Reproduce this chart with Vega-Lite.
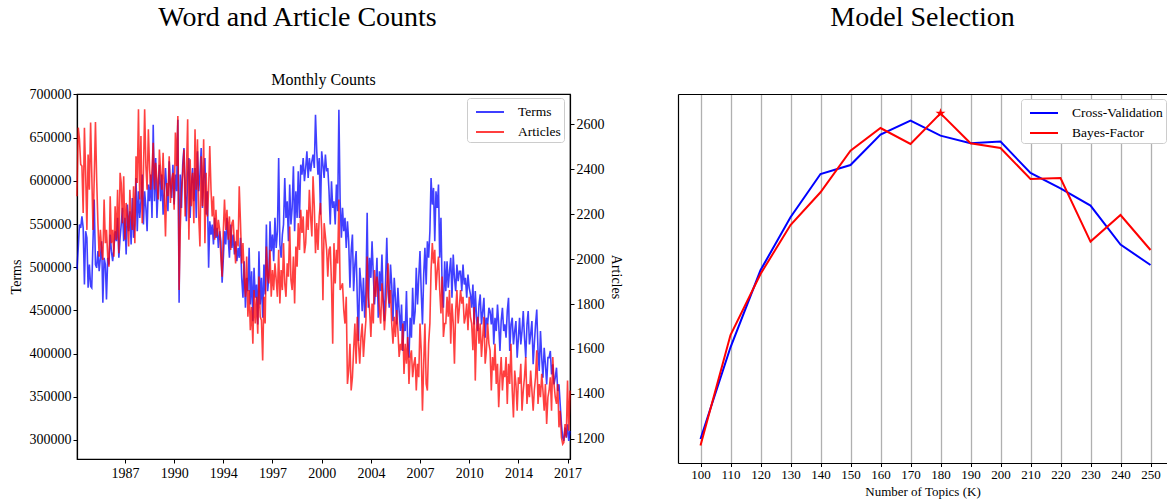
{
  "$schema": "https://vega.github.io/schema/vega-lite/v6.json",
  "padding": {"left": 8, "top": 3, "right": 0, "bottom": 2},
  "background": "white",
  "config": {
    "font": "Liberation Serif",
    "view": {"stroke": "black", "strokeWidth": 1.2},
    "axis": {"labelFont": "Liberation Serif", "titleFont": "Liberation Serif", "labelFontSize": 14, "titleFontSize": 14, "titleFontWeight": "normal", "labelColor": "black", "titleColor": "black", "domainColor": "black", "domainWidth": 1.2, "tickColor": "black", "tickSize": 4, "grid": false},
    "legend": {"labelFont": "Liberation Serif", "labelFontSize": 13.5, "labelColor": "black", "symbolType": "M-0.5,0H2.3", "symbolStrokeWidth": 2, "symbolSize": 400, "strokeColor": "#cccccc", "fillColor": "white", "cornerRadius": 3, "padding": 3, "rowPadding": 2, "labelOffset": 26},
    "title": {"font": "Liberation Serif", "fontWeight": "normal", "color": "black"}
  },
  "spacing": 55,
  "resolve": {"scale": {"color": "independent"}},
  "hconcat": [
    {
      "title": {"text": "Word and Article Counts", "fontSize": 28, "anchor": "middle", "dx": -18, "offset": 40},
      "vconcat": [
        {
          "title": {"text": "Monthly Counts", "fontSize": 16, "anchor": "middle", "offset": -1},
          "width": 493,
          "height": 365,
          "data": {"values": [
{"d":"1984-03-01","t":497400,"a":2280},{"d":"1984-04-01","t":522400,"a":2585},{"d":"1984-05-01","t":549400,"a":2533},{"d":"1984-06-01","t":545500,"a":2421},{"d":"1984-07-01","t":559000,"a":2414},{"d":"1984-08-01","t":545500,"a":2205},{"d":"1984-09-01","t":480000,"a":2585},{"d":"1984-10-01","t":541700,"a":2384},{"d":"1984-11-01","t":534000,"a":2130},{"d":"1984-12-01","t":476200,"a":2466},{"d":"1985-01-01","t":503100,"a":2309},{"d":"1985-02-01","t":478100,"a":2608},
{"d":"1985-03-01","t":476200,"a":2384},{"d":"1985-04-01","t":530100,"a":2130},{"d":"1985-05-01","t":578300,"a":2354},{"d":"1985-06-01","t":503100,"a":2610},{"d":"1985-07-01","t":499300,"a":2354},{"d":"1985-08-01","t":518600,"a":2160},{"d":"1985-09-01","t":495400,"a":2011},{"d":"1985-10-01","t":510900,"a":2130},{"d":"1985-11-01","t":530100,"a":2041},{"d":"1985-12-01","t":458800,"a":1996},{"d":"1986-01-01","t":510900,"a":2265},{"d":"1986-02-01","t":503100,"a":2071},
{"d":"1986-03-01","t":462700,"a":2130},{"d":"1986-04-01","t":510900,"a":2011},{"d":"1986-05-01","t":503100,"a":1966},{"d":"1986-06-01","t":537800,"a":2280},{"d":"1986-07-01","t":518600,"a":2071},{"d":"1986-08-01","t":507000,"a":2130},{"d":"1986-09-01","t":522400,"a":2011},{"d":"1986-10-01","t":541700,"a":2235},{"d":"1986-11-01","t":530100,"a":2086},{"d":"1986-12-01","t":557100,"a":2309},{"d":"1987-01-01","t":510900,"a":2026},{"d":"1987-02-01","t":534000,"a":2384},
{"d":"1987-03-01","t":549400,"a":2339},{"d":"1987-04-01","t":568700,"a":2160},{"d":"1987-05-01","t":530100,"a":2369},{"d":"1987-06-01","t":557100,"a":2086},{"d":"1987-07-01","t":514700,"a":2250},{"d":"1987-08-01","t":572500,"a":2190},{"d":"1987-09-01","t":541700,"a":2056},{"d":"1987-10-01","t":564800,"a":2309},{"d":"1987-11-01","t":526300,"a":2190},{"d":"1987-12-01","t":580200,"a":2130},{"d":"1988-01-01","t":534000,"a":2324},{"d":"1988-02-01","t":549400,"a":2071},
{"d":"1988-03-01","t":603300,"a":2458},{"d":"1988-04-01","t":541700,"a":2339},{"d":"1988-05-01","t":587900,"a":2667},{"d":"1988-06-01","t":557100,"a":2265},{"d":"1988-07-01","t":576400,"a":2548},{"d":"1988-08-01","t":607200,"a":2160},{"d":"1988-09-01","t":549400,"a":2384},{"d":"1988-10-01","t":587900,"a":2667},{"d":"1988-11-01","t":568700,"a":2414},{"d":"1988-12-01","t":541700,"a":2309},{"d":"1989-01-01","t":595600,"a":2578},{"d":"1989-02-01","t":576400,"a":2399},
{"d":"1989-03-01","t":607200,"a":2309},{"d":"1989-04-01","t":557100,"a":2399},{"d":"1989-05-01","t":665000,"a":2518},{"d":"1989-06-01","t":576400,"a":2309},{"d":"1989-07-01","t":626400,"a":2429},{"d":"1989-08-01","t":557100,"a":2354},{"d":"1989-09-01","t":591800,"a":2265},{"d":"1989-10-01","t":618700,"a":2488},{"d":"1989-11-01","t":576400,"a":2384},{"d":"1989-12-01","t":607200,"a":2309},{"d":"1990-01-01","t":560900,"a":2473},{"d":"1990-02-01","t":587900,"a":2280},
{"d":"1990-03-01","t":614900,"a":2101},{"d":"1990-04-01","t":587900,"a":2339},{"d":"1990-05-01","t":564800,"a":2280},{"d":"1990-06-01","t":622600,"a":2458},{"d":"1990-07-01","t":595600,"a":2250},{"d":"1990-08-01","t":580200,"a":2354},{"d":"1990-09-01","t":618700,"a":2384},{"d":"1990-10-01","t":572500,"a":2220},{"d":"1990-11-01","t":607200,"a":2563},{"d":"1990-12-01","t":587900,"a":2414},{"d":"1991-01-01","t":670800,"a":2637},{"d":"1991-02-01","t":458800,"a":1862},
{"d":"1991-03-01","t":607200,"a":2130},{"d":"1991-04-01","t":568700,"a":2309},{"d":"1991-05-01","t":618700,"a":2384},{"d":"1991-06-01","t":638000,"a":2488},{"d":"1991-07-01","t":587900,"a":2190},{"d":"1991-08-01","t":553200,"a":2384},{"d":"1991-09-01","t":607200,"a":2622},{"d":"1991-10-01","t":626400,"a":2086},{"d":"1991-11-01","t":557100,"a":2444},{"d":"1991-12-01","t":595600,"a":2235},{"d":"1992-01-01","t":614900,"a":2384},{"d":"1992-02-01","t":576400,"a":2160},
{"d":"1992-03-01","t":614900,"a":2578},{"d":"1992-04-01","t":557100,"a":2309},{"d":"1992-05-01","t":634100,"a":2533},{"d":"1992-06-01","t":587900,"a":2190},{"d":"1992-07-01","t":607200,"a":2056},{"d":"1992-08-01","t":638000,"a":2458},{"d":"1992-09-01","t":568700,"a":2235},{"d":"1992-10-01","t":603300,"a":2533},{"d":"1992-11-01","t":626400,"a":2071},{"d":"1992-12-01","t":560900,"a":2384},{"d":"1993-01-01","t":587900,"a":2190},{"d":"1993-02-01","t":499300,"a":2309},
{"d":"1993-03-01","t":553200,"a":2503},{"d":"1993-04-01","t":537800,"a":2309},{"d":"1993-05-01","t":549400,"a":2190},{"d":"1993-06-01","t":526300,"a":2280},{"d":"1993-07-01","t":557100,"a":2086},{"d":"1993-08-01","t":534000,"a":2220},{"d":"1993-09-01","t":545500,"a":2101},{"d":"1993-10-01","t":522400,"a":2175},{"d":"1993-11-01","t":541700,"a":2130},{"d":"1993-12-01","t":530100,"a":2011},{"d":"1994-01-01","t":482000,"a":1922},{"d":"1994-02-01","t":510900,"a":2130},
{"d":"1994-03-01","t":541700,"a":2265},{"d":"1994-04-01","t":526300,"a":2130},{"d":"1994-05-01","t":557100,"a":2220},{"d":"1994-06-01","t":534000,"a":2086},{"d":"1994-07-01","t":510900,"a":2190},{"d":"1994-08-01","t":549400,"a":2041},{"d":"1994-09-01","t":522400,"a":2160},{"d":"1994-10-01","t":537800,"a":2175},{"d":"1994-11-01","t":514700,"a":2071},{"d":"1994-12-01","t":530100,"a":1981},{"d":"1995-01-01","t":507000,"a":2130},{"d":"1995-02-01","t":522400,"a":2056},
{"d":"1995-03-01","t":510900,"a":2324},{"d":"1995-04-01","t":534000,"a":2160},{"d":"1995-05-01","t":487700,"a":1981},{"d":"1995-06-01","t":464600,"a":2071},{"d":"1995-07-01","t":507000,"a":1922},{"d":"1995-08-01","t":453100,"a":1832},{"d":"1995-09-01","t":487700,"a":2011},{"d":"1995-10-01","t":472300,"a":1743},{"d":"1995-11-01","t":522400,"a":1862},{"d":"1995-12-01","t":456900,"a":1683},{"d":"1996-01-01","t":495400,"a":1787},{"d":"1996-02-01","t":437600,"a":1623},
{"d":"1996-03-01","t":499300,"a":1862},{"d":"1996-04-01","t":464600,"a":1713},{"d":"1996-05-01","t":480000,"a":1832},{"d":"1996-06-01","t":433800,"a":1668},{"d":"1996-07-01","t":518600,"a":1922},{"d":"1996-08-01","t":456900,"a":1743},{"d":"1996-09-01","t":487700,"a":1728},{"d":"1996-10-01","t":441500,"a":1549},{"d":"1996-11-01","t":503100,"a":1832},{"d":"1996-12-01","t":468500,"a":1713},{"d":"1997-01-01","t":549400,"a":2056},{"d":"1997-02-01","t":472300,"a":1922},
{"d":"1997-03-01","t":487700,"a":1892},{"d":"1997-04-01","t":553200,"a":2041},{"d":"1997-05-01","t":518600,"a":1832},{"d":"1997-06-01","t":537800,"a":1951},{"d":"1997-07-01","t":507000,"a":1862},{"d":"1997-08-01","t":557100,"a":1981},{"d":"1997-09-01","t":522400,"a":1907},{"d":"1997-10-01","t":541700,"a":1832},{"d":"1997-11-01","t":626400,"a":2041},{"d":"1997-12-01","t":526300,"a":1802},{"d":"1998-01-01","t":510900,"a":1951},{"d":"1998-02-01","t":537800,"a":1862},
{"d":"1998-03-01","t":549400,"a":2071},{"d":"1998-04-01","t":603300,"a":1892},{"d":"1998-05-01","t":557100,"a":1832},{"d":"1998-06-01","t":576400,"a":1981},{"d":"1998-07-01","t":530100,"a":1922},{"d":"1998-08-01","t":595600,"a":2145},{"d":"1998-09-01","t":549400,"a":1907},{"d":"1998-10-01","t":568700,"a":1862},{"d":"1998-11-01","t":616800,"a":2011},{"d":"1998-12-01","t":541700,"a":1802},{"d":"1999-01-01","t":587900,"a":2056},{"d":"1999-02-01","t":557100,"a":1966},
{"d":"1999-03-01","t":611000,"a":2160},{"d":"1999-04-01","t":557100,"a":2041},{"d":"1999-05-01","t":618700,"a":2220},{"d":"1999-06-01","t":607200,"a":2116},{"d":"1999-07-01","t":626400,"a":2190},{"d":"1999-08-01","t":599500,"a":2026},{"d":"1999-09-01","t":614900,"a":2071},{"d":"1999-10-01","t":634100,"a":2220},{"d":"1999-11-01","t":603300,"a":2130},{"d":"1999-12-01","t":626400,"a":2309},{"d":"2000-01-01","t":611000,"a":2190},{"d":"2000-02-01","t":622600,"a":2101},
{"d":"2000-03-01","t":630300,"a":2369},{"d":"2000-04-01","t":614900,"a":2235},{"d":"2000-05-01","t":676500,"a":2026},{"d":"2000-06-01","t":634100,"a":2160},{"d":"2000-07-01","t":607200,"a":2041},{"d":"2000-08-01","t":626400,"a":2190},{"d":"2000-09-01","t":560900,"a":2250},{"d":"2000-10-01","t":634100,"a":2130},{"d":"2000-11-01","t":618700,"a":1817},{"d":"2000-12-01","t":603300,"a":2160},{"d":"2001-01-01","t":630300,"a":2101},{"d":"2001-02-01","t":611000,"a":2041},
{"d":"2001-03-01","t":614900,"a":1922},{"d":"2001-04-01","t":587900,"a":2041},{"d":"2001-05-01","t":549400,"a":2056},{"d":"2001-06-01","t":599500,"a":1892},{"d":"2001-07-01","t":568700,"a":1623},{"d":"2001-08-01","t":576400,"a":2071},{"d":"2001-09-01","t":549400,"a":1892},{"d":"2001-10-01","t":595600,"a":2041},{"d":"2001-11-01","t":564800,"a":1981},{"d":"2001-12-01","t":682300,"a":2265},{"d":"2002-01-01","t":576400,"a":1862},{"d":"2002-02-01","t":534000,"a":1877},
{"d":"2002-03-01","t":568700,"a":1892},{"d":"2002-04-01","t":541700,"a":1773},{"d":"2002-05-01","t":557100,"a":1713},{"d":"2002-06-01","t":522400,"a":1832},{"d":"2002-07-01","t":553200,"a":1444},{"d":"2002-08-01","t":530100,"a":1504},{"d":"2002-09-01","t":476200,"a":1623},{"d":"2002-10-01","t":518600,"a":1415},{"d":"2002-11-01","t":537800,"a":1474},{"d":"2002-12-01","t":472300,"a":1594},{"d":"2003-01-01","t":503100,"a":1713},{"d":"2003-02-01","t":518600,"a":1534},
{"d":"2003-03-01","t":464600,"a":1743},{"d":"2003-04-01","t":414500,"a":1623},{"d":"2003-05-01","t":499300,"a":1534},{"d":"2003-06-01","t":480000,"a":1653},{"d":"2003-07-01","t":449200,"a":1713},{"d":"2003-08-01","t":487700,"a":1564},{"d":"2003-09-01","t":441500,"a":1653},{"d":"2003-10-01","t":472300,"a":1728},{"d":"2003-11-01","t":562900,"a":2011},{"d":"2003-12-01","t":453100,"a":1832},{"d":"2004-01-01","t":510900,"a":1773},{"d":"2004-02-01","t":487700,"a":1653},
{"d":"2004-03-01","t":530100,"a":1802},{"d":"2004-04-01","t":491600,"a":1713},{"d":"2004-05-01","t":456900,"a":1951},{"d":"2004-06-01","t":480000,"a":1832},{"d":"2004-07-01","t":510900,"a":1922},{"d":"2004-08-01","t":441500,"a":1862},{"d":"2004-09-01","t":495400,"a":1773},{"d":"2004-10-01","t":472300,"a":1713},{"d":"2004-11-01","t":514700,"a":1892},{"d":"2004-12-01","t":464600,"a":1802},{"d":"2005-01-01","t":437600,"a":1683},{"d":"2005-02-01","t":487700,"a":1773},
{"d":"2005-03-01","t":534000,"a":1877},{"d":"2005-04-01","t":472300,"a":1981},{"d":"2005-05-01","t":453100,"a":1802},{"d":"2005-06-01","t":503100,"a":1862},{"d":"2005-07-01","t":480000,"a":1713},{"d":"2005-08-01","t":437600,"a":1623},{"d":"2005-09-01","t":487700,"a":1743},{"d":"2005-10-01","t":464600,"a":1653},{"d":"2005-11-01","t":433800,"a":1773},{"d":"2005-12-01","t":476200,"a":1683},{"d":"2006-01-01","t":449200,"a":1564},{"d":"2006-02-01","t":426100,"a":1623},
{"d":"2006-03-01","t":456900,"a":1594},{"d":"2006-04-01","t":403000,"a":1713},{"d":"2006-05-01","t":437600,"a":1489},{"d":"2006-06-01","t":426100,"a":1623},{"d":"2006-07-01","t":472300,"a":1534},{"d":"2006-08-01","t":410700,"a":1653},{"d":"2006-09-01","t":395300,"a":1444},{"d":"2006-10-01","t":441500,"a":1564},{"d":"2006-11-01","t":418400,"a":1594},{"d":"2006-12-01","t":476200,"a":1474},{"d":"2007-01-01","t":433800,"a":1534},{"d":"2007-02-01","t":449200,"a":1564},
{"d":"2007-03-01","t":499300,"a":1415},{"d":"2007-04-01","t":456900,"a":1534},{"d":"2007-05-01","t":487700,"a":1474},{"d":"2007-06-01","t":518600,"a":1713},{"d":"2007-07-01","t":472300,"a":1594},{"d":"2007-08-01","t":433800,"a":1325},{"d":"2007-09-01","t":491600,"a":1534},{"d":"2007-10-01","t":522400,"a":1713},{"d":"2007-11-01","t":480000,"a":1444},{"d":"2007-12-01","t":530100,"a":1415},{"d":"2008-01-01","t":510900,"a":1623},{"d":"2008-02-01","t":541700,"a":1713},
{"d":"2008-03-01","t":603300,"a":1951},{"d":"2008-04-01","t":572500,"a":2071},{"d":"2008-05-01","t":591800,"a":1981},{"d":"2008-06-01","t":530100,"a":2041},{"d":"2008-07-01","t":587900,"a":1862},{"d":"2008-08-01","t":568700,"a":1951},{"d":"2008-09-01","t":595600,"a":2011},{"d":"2008-10-01","t":510900,"a":1862},{"d":"2008-11-01","t":557100,"a":1758},{"d":"2008-12-01","t":472300,"a":1922},{"d":"2009-01-01","t":453100,"a":1653},{"d":"2009-02-01","t":507000,"a":1713},
{"d":"2009-03-01","t":472300,"a":1713},{"d":"2009-04-01","t":507000,"a":1832},{"d":"2009-05-01","t":476200,"a":1743},{"d":"2009-06-01","t":495400,"a":1862},{"d":"2009-07-01","t":510900,"a":1623},{"d":"2009-08-01","t":464600,"a":1802},{"d":"2009-09-01","t":514700,"a":1713},{"d":"2009-10-01","t":487700,"a":1534},{"d":"2009-11-01","t":472300,"a":1773},{"d":"2009-12-01","t":503100,"a":1862},{"d":"2010-01-01","t":483900,"a":1713},{"d":"2010-02-01","t":495400,"a":1787},
{"d":"2010-03-01","t":495400,"a":1862},{"d":"2010-04-01","t":472300,"a":1802},{"d":"2010-05-01","t":503100,"a":1832},{"d":"2010-06-01","t":480000,"a":1713},{"d":"2010-07-01","t":487700,"a":1743},{"d":"2010-08-01","t":464600,"a":1802},{"d":"2010-09-01","t":491600,"a":1683},{"d":"2010-10-01","t":476200,"a":1832},{"d":"2010-11-01","t":468500,"a":1743},{"d":"2010-12-01","t":453100,"a":1713},{"d":"2011-01-01","t":480000,"a":1594},{"d":"2011-02-01","t":433800,"a":1787},
{"d":"2011-03-01","t":472300,"a":1459},{"d":"2011-04-01","t":441500,"a":1683},{"d":"2011-05-01","t":426100,"a":1743},{"d":"2011-06-01","t":456900,"a":1623},{"d":"2011-07-01","t":468500,"a":1713},{"d":"2011-08-01","t":433800,"a":1564},{"d":"2011-09-01","t":449200,"a":1653},{"d":"2011-10-01","t":464600,"a":1743},{"d":"2011-11-01","t":418400,"a":1534},{"d":"2011-12-01","t":441500,"a":1594},{"d":"2012-01-01","t":433800,"a":1713},{"d":"2012-02-01","t":453100,"a":1623},
{"d":"2012-03-01","t":449200,"a":1594},{"d":"2012-04-01","t":433800,"a":1415},{"d":"2012-05-01","t":453100,"a":1564},{"d":"2012-06-01","t":410700,"a":1504},{"d":"2012-07-01","t":441500,"a":1623},{"d":"2012-08-01","t":426100,"a":1444},{"d":"2012-09-01","t":456900,"a":1534},{"d":"2012-10-01","t":433800,"a":1340},{"d":"2012-11-01","t":403000,"a":1474},{"d":"2012-12-01","t":437600,"a":1564},{"d":"2013-01-01","t":453100,"a":1415},{"d":"2013-02-01","t":426100,"a":1504},
{"d":"2013-03-01","t":433800,"a":1474},{"d":"2013-04-01","t":418400,"a":1564},{"d":"2013-05-01","t":449200,"a":1355},{"d":"2013-06-01","t":464600,"a":1534},{"d":"2013-07-01","t":403000,"a":1444},{"d":"2013-08-01","t":433800,"a":1623},{"d":"2013-09-01","t":441500,"a":1415},{"d":"2013-10-01","t":410700,"a":1295},{"d":"2013-11-01","t":426100,"a":1504},{"d":"2013-12-01","t":437600,"a":1444},{"d":"2014-01-01","t":395300,"a":1325},{"d":"2014-02-01","t":418400,"a":1474},
{"d":"2014-03-01","t":441500,"a":1444},{"d":"2014-04-01","t":410700,"a":1534},{"d":"2014-05-01","t":426100,"a":1325},{"d":"2014-06-01","t":449200,"a":1415},{"d":"2014-07-01","t":418400,"a":1474},{"d":"2014-08-01","t":395300,"a":1564},{"d":"2014-09-01","t":433800,"a":1355},{"d":"2014-10-01","t":449200,"a":1444},{"d":"2014-11-01","t":410700,"a":1385},{"d":"2014-12-01","t":422200,"a":1504},{"d":"2015-01-01","t":437600,"a":1415},{"d":"2015-02-01","t":387600,"a":1325},
{"d":"2015-03-01","t":410700,"a":1415},{"d":"2015-04-01","t":433800,"a":1474},{"d":"2015-05-01","t":451100,"a":1594},{"d":"2015-06-01","t":403000,"a":1355},{"d":"2015-07-01","t":379900,"a":1444},{"d":"2015-08-01","t":426100,"a":1385},{"d":"2015-09-01","t":395300,"a":1489},{"d":"2015-10-01","t":372100,"a":1415},{"d":"2015-11-01","t":406800,"a":1325},{"d":"2015-12-01","t":387600,"a":1444},{"d":"2016-01-01","t":364400,"a":1266},{"d":"2016-02-01","t":395300,"a":1385},
{"d":"2016-03-01","t":395300,"a":1415},{"d":"2016-04-01","t":403000,"a":1474},{"d":"2016-05-01","t":376000,"a":1325},{"d":"2016-06-01","t":387600,"a":1564},{"d":"2016-07-01","t":364400,"a":1444},{"d":"2016-08-01","t":372100,"a":1385},{"d":"2016-09-01","t":383700,"a":1355},{"d":"2016-10-01","t":356700,"a":1444},{"d":"2016-11-01","t":364400,"a":1251},{"d":"2016-12-01","t":341300,"a":1325},{"d":"2017-01-01","t":318200,"a":1206},{"d":"2017-02-01","t":302800,"a":1176},
{"d":"2017-03-01","t":298900,"a":1184},{"d":"2017-04-01","t":314400,"a":1266},{"d":"2017-05-01","t":302800,"a":1206},{"d":"2017-06-01","t":318200,"a":1459},{"d":"2017-07-01","t":298900,"a":1236},{"d":"2017-08-01","t":310500,"a":1415}
          ]},
          "layer": [
            {
              "mark": {"type": "line", "strokeWidth": 1.6, "opacity": 0.75},
              "encoding": {
                "x": {"field": "d", "type": "temporal",
                  "scale": {"type": "utc", "domain": ["1984-03-01", "2017-08-01"], "nice": false},
                  "axis": {"title": null, "format": "%Y", "labelPadding": 3,
                    "values": ["1987-06-01", "1990-10-01", "1994-02-01", "1997-06-01", "2000-10-01", "2004-02-01", "2007-06-01", "2010-10-01", "2014-02-01", "2017-06-01"]}},
                "y": {"field": "t", "type": "quantitative",
                  "scale": {"domain": [278000, 700500], "nice": false, "zero": false},
                  "axis": {"title": "Terms", "format": "d", "titlePadding": 6, "values": [300000, 350000, 400000, 450000, 500000, 550000, 600000, 650000, 700000]}},
                "color": {"datum": "Terms", "type": "nominal",
                  "scale": {"domain": ["Terms", "Articles"], "range": ["blue", "red"]},
                  "legend": {"title": null, "orient": "none", "legendX": 390, "legendY": 4, "symbolOpacity": 0.75}}
              }
            },
            {
              "mark": {"type": "line", "strokeWidth": 1.6, "opacity": 0.75},
              "encoding": {
                "x": {"field": "d", "type": "temporal"},
                "y": {"field": "a", "type": "quantitative",
                  "scale": {"domain": [1110, 2735], "nice": false, "zero": false},
                  "axis": {"title": "Articles", "orient": "right", "format": "d", "titlePadding": 4, "values": [1200, 1400, 1600, 1800, 2000, 2200, 2400, 2600]}},
                "color": {"datum": "Articles", "type": "nominal"}
              }
            }
          ],
          "resolve": {"scale": {"y": "independent"}}
        }
      ]
    },
    {
      "title": {"text": "Model Selection", "fontSize": 28, "anchor": "middle", "offset": 40},
      "vconcat": [
        {
          "title": {"text": "\u00a0", "fontSize": 16, "offset": 6},
          "width": 489,
          "height": 369,
          "view": {"stroke": null},
          "data": {"values": [
            {"k": 100, "cv": 24.0, "bf": 17.4},
            {"k": 110, "cv": 115.7, "bf": 128.0},
            {"k": 120, "cv": 192.7, "bf": 189.0},
            {"k": 130, "cv": 245.7, "bf": 238.0},
            {"k": 140, "cv": 289.0, "bf": 270.7},
            {"k": 150, "cv": 298.0, "bf": 312.4},
            {"k": 160, "cv": 328.4, "bf": 335.0},
            {"k": 170, "cv": 342.4, "bf": 319.0},
            {"k": 180, "cv": 327.4, "bf": 349.7},
            {"k": 190, "cv": 319.7, "bf": 319.7},
            {"k": 200, "cv": 321.4, "bf": 315.0},
            {"k": 210, "cv": 290.0, "bf": 284.0},
            {"k": 220, "cv": 274.7, "bf": 285.0},
            {"k": 230, "cv": 257.4, "bf": 221.4},
            {"k": 240, "cv": 218.4, "bf": 248.0},
            {"k": 250, "cv": 198.0, "bf": 213.0}
          ]},
          "layer": [
            {
              "mark": {"type": "line", "strokeWidth": 2},
              "encoding": {
                "x": {"field": "k", "type": "quantitative",
                  "scale": {"domain": [92.5, 255.5], "nice": false, "zero": false},
                  "axis": {"title": "Number of Topics (K)", "values": [100, 110, 120, 130, 140, 150, 160, 170, 180, 190, 200, 210, 220, 230, 240, 250], "grid": true, "gridColor": "#b0b0b0", "gridWidth": 1.3, "labelFontSize": 13, "titleFontSize": 13, "tickSize": 3.5, "titlePadding": 4}},
                "y": {"field": "cv", "type": "quantitative",
                  "scale": {"domain": [0, 369], "nice": false, "zero": false},
                  "axis": {"title": null, "labels": false, "ticks": false, "domain": true, "grid": false}},
                "color": {"datum": "Cross-Validation", "type": "nominal",
                  "scale": {"domain": ["Cross-Validation", "Bayes-Factor"], "range": ["blue", "red"]},
                  "legend": {"title": null, "orient": "none", "legendX": 343, "legendY": 5}}
              }
            },
            {
              "mark": {"type": "line", "strokeWidth": 2},
              "encoding": {
                "x": {"field": "k", "type": "quantitative", "axis": null},
                "y": {"field": "bf", "type": "quantitative"},
                "color": {"datum": "Bayes-Factor", "type": "nominal"}
              }
            },
            {
              "transform": [{"filter": "datum.k == 180"}],
              "mark": {"type": "point", "shape": "M0,-1L0.2245,-0.309L0.951,-0.309L0.3633,0.118L0.5878,0.809L0,0.382L-0.5878,0.809L-0.3633,0.118L-0.951,-0.309L-0.2245,-0.309Z", "filled": true, "size": 110, "color": "red", "opacity": 1},
              "encoding": {
                "x": {"field": "k", "type": "quantitative",
                  "axis": {"orient": "top", "labels": false, "ticks": false, "grid": false, "title": null, "domain": true}},
                "y": {"field": "bf", "type": "quantitative"}
              }
            }
          ],
          "resolve": {"axis": {"x": "independent"}}
        }
      ]
    }
  ]
}
